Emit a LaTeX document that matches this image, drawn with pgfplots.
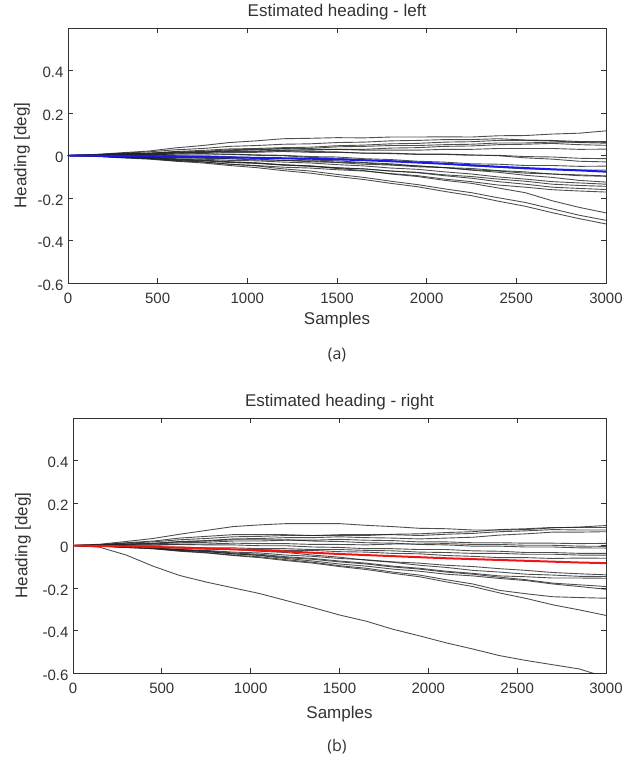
\documentclass[border=0pt]{standalone}
\usepackage{fontspec}
\setmainfont{Liberation Sans}
\newfontfamily\capfont{Open Sans}
\usepackage{pgfplots}
\pgfplotsset{compat=1.18}
\definecolor{axgray}{RGB}{50,50,50}
\definecolor{trace}{RGB}{30,30,30}
\definecolor{meanblue}{RGB}{25,25,235}
\definecolor{meanred}{RGB}{240,20,20}
\pgfplotsset{
  headingax/.style={scale only axis, height=255pt,
    xmin=0, xmax=3000, ymin=-0.6, ymax=0.6,
    xtick={0,500,1000,1500,2000,2500,3000},
    xticklabels={0,500,1000,1500,2000,2500,3000},
    ytick={-0.6,-0.4,-0.2,0,0.2,0.4},
    yticklabels={-0.6,-0.4,-0.2,0,0.2,0.4},
    tick align=inside, major tick length=5pt,
    axis line style={draw=axgray, line width=0.9pt},
    tick style={draw=axgray, line width=0.7pt},
    tick label style={font=\fontsize{15}{16}\selectfont, text=axgray},
    xticklabel style={yshift=-6pt},
    yticklabel style={xshift=-1pt, yshift=-2pt}},
  tr/.style={draw=trace, line width=0.9pt, opacity=0.78},
}
\newcommand{\lbl}{\fontsize{17}{18}\selectfont}
\begin{document}
\begin{tikzpicture}[x=1pt,y=1pt]
\path[use as bounding box] (0,0) rectangle (638,-764);

% ---- (a) left ----
\begin{axis}[headingax, at={(68pt,-283pt)}, anchor=south west, width=538pt]
\addplot[tr] coordinates {(0,0) (150,.005) (300,.013) (450,.021) (600,.036) (750,.047) (900,.061) (1050,.069) (1200,.079) (1350,.081) (1500,.084) (1650,.083) (1800,.087) (1950,.087) (2100,.088) (2250,.087) (2400,.093) (2550,.094) (2700,.101) (2850,.105) (3000,.116)};
\addplot[tr] coordinates {(0,0) (150,.004) (300,.011) (450,.017) (600,.027) (750,.033) (900,.043) (1050,.047) (1200,.053) (1350,.055) (1500,.061) (1650,.063) (1800,.069) (1950,.071) (2100,.075) (2250,.075) (2400,.079) (2550,.073) (2700,.071) (2850,.066) (3000,.066)};
\addplot[tr] coordinates {(0,0) (150,.003) (300,.008) (450,.011) (600,.019) (750,.024) (900,.031) (1050,.033) (1200,.037) (1350,.039) (1500,.046) (1650,.049) (1800,.055) (1950,.057) (2100,.063) (2250,.065) (2400,.071) (2550,.071) (2700,.069) (2850,.061) (3000,.058)};
\addplot[tr] coordinates {(0,0) (150,.002) (300,.007) (450,.009) (600,.015) (750,.019) (900,.027) (1050,.029) (1200,.033) (1350,.029) (1500,.029) (1650,.029) (1800,.035) (1950,.037) (2100,.043) (2250,.045) (2400,.051) (2550,.053) (2700,.057) (2850,.051) (3000,.048)};
\addplot[tr] coordinates {(0,0) (150,.003) (300,.009) (450,.011) (600,.017) (750,.017) (900,.021) (1050,.021) (1200,.025) (1350,.025) (1500,.029) (1650,.025) (1800,.025) (1950,.025) (2100,.029) (2250,.029) (2400,.033) (2550,.033) (2700,.033) (2850,.029) (3000,.030)};
\addplot[tr] coordinates {(0,0) (150,.001) (300,.004) (450,.005) (600,.011) (750,.013) (900,.019) (1050,.019) (1200,.023) (1350,.019) (1500,.017) (1650,.011) (1800,.009) (1950,.005) (2100,.005) (2250,.001) (2400,.001) (2550,-.005) (2700,-.007) (2850,-.013) (3000,-.015)};
\addplot[tr] coordinates {(0,0) (150,.000) (300,.003) (450,.003) (600,.007) (750,.007) (900,.007) (1050,.003) (1200,.001) (1350,-.005) (1500,-.007) (1650,-.015) (1800,-.019) (1950,-.027) (2100,-.031) (2250,-.039) (2400,-.041) (2550,-.047) (2700,-.047) (2850,-.051) (3000,-.050)};
\addplot[tr] coordinates {(0,0) (150,-.001) (300,-.001) (450,-.003) (600,.001) (750,.001) (900,.005) (1050,.001) (1200,-.001) (1350,-.009) (1500,-.013) (1650,-.021) (1800,-.025) (1950,-.033) (2100,-.039) (2250,-.049) (2400,-.055) (2550,-.063) (2700,-.065) (2850,-.069) (3000,-.068)};
\addplot[tr] coordinates {(0,0) (150,-.002) (300,-.003) (450,-.009) (600,-.009) (750,-.013) (900,-.015) (1050,-.021) (1200,-.023) (1350,-.029) (1500,-.033) (1650,-.041) (1800,-.045) (1950,-.053) (2100,-.057) (2250,-.067) (2400,-.073) (2550,-.083) (2700,-.087) (2850,-.095) (3000,-.098)};
\addplot[tr] coordinates {(0,0) (150,-.002) (300,-.007) (450,-.009) (600,-.015) (750,-.017) (900,-.023) (1050,-.025) (1200,-.031) (1350,-.035) (1500,-.043) (1650,-.049) (1800,-.059) (1950,-.065) (2100,-.077) (2250,-.087) (2400,-.101) (2550,-.111) (2700,-.123) (2850,-.129) (3000,-.135)};
\addplot[tr] coordinates {(0,0) (150,-.003) (300,-.009) (450,-.013) (600,-.021) (750,-.025) (900,-.033) (1050,-.037) (1200,-.045) (1350,-.049) (1500,-.057) (1650,-.063) (1800,-.073) (1950,-.079) (2100,-.091) (2250,-.099) (2400,-.111) (2550,-.121) (2700,-.135) (2850,-.141) (3000,-.145)};
\addplot[tr] coordinates {(0,0) (150,-.002) (300,-.006) (450,-.009) (600,-.017) (750,-.021) (900,-.029) (1050,-.035) (1200,-.045) (1350,-.051) (1500,-.059) (1650,-.063) (1800,-.073) (1950,-.081) (2100,-.095) (2250,-.107) (2400,-.123) (2550,-.135) (2700,-.149) (2850,-.155) (3000,-.160)};
\addplot[tr] coordinates {(0,0) (150,-.003) (300,-.009) (450,-.015) (600,-.025) (750,-.031) (900,-.041) (1050,-.047) (1200,-.055) (1350,-.059) (1500,-.067) (1650,-.073) (1800,-.085) (1950,-.095) (2100,-.111) (2250,-.123) (2400,-.139) (2550,-.149) (2700,-.161) (2850,-.167) (3000,-.172)};
\addplot[tr] coordinates {(0,0) (150,-.002) (300,-.007) (450,-.011) (600,-.019) (750,-.023) (900,-.031) (1050,-.035) (1200,-.043) (1350,-.049) (1500,-.061) (1650,-.071) (1800,-.087) (1950,-.099) (2100,-.117) (2250,-.131) (2400,-.153) (2550,-.175) (2700,-.213) (2850,-.244) (3000,-.270)};
\addplot[tr] coordinates {(0,0) (150,-.003) (300,-.009) (450,-.013) (600,-.023) (750,-.029) (900,-.041) (1050,-.049) (1200,-.063) (1350,-.073) (1500,-.089) (1650,-.103) (1800,-.121) (1950,-.137) (2100,-.157) (2250,-.175) (2400,-.199) (2550,-.221) (2700,-.251) (2850,-.281) (3000,-.305)};
\addplot[tr] coordinates {(0,0) (150,-.004) (300,-.011) (450,-.017) (600,-.027) (750,-.035) (900,-.047) (1050,-.057) (1200,-.071) (1350,-.083) (1500,-.099) (1650,-.113) (1800,-.131) (1950,-.147) (2100,-.169) (2250,-.189) (2400,-.215) (2550,-.239) (2700,-.269) (2850,-.297) (3000,-.322)};
\addplot[tr] coordinates {(0,0) (150,.002) (300,.005) (450,.007) (600,.013) (750,.015) (900,.023) (1050,.027) (1200,.031) (1350,.033) (1500,.041) (1650,.043) (1800,.047) (1950,.047) (2100,.051) (2250,.053) (2400,.059) (2550,.059) (2700,.063) (2850,.063) (3000,.062)};
\addplot[tr] coordinates {(0,0) (150,.001) (300,.003) (450,.003) (600,.007) (750,.009) (900,.015) (1050,.015) (1200,.019) (1350,.015) (1500,.015) (1650,.011) (1800,.011) (1950,.007) (2100,.007) (2250,.003) (2400,-.001) (2550,-.011) (2700,-.017) (2850,-.027) (3000,-.030)};
\addplot[tr] coordinates {(0,0) (150,-.001) (300,-.004) (450,-.005) (600,-.009) (750,-.009) (900,-.015) (1050,-.017) (1200,-.023) (1350,-.025) (1500,-.031) (1650,-.035) (1800,-.043) (1950,-.049) (2100,-.057) (2250,-.061) (2400,-.071) (2550,-.077) (2700,-.087) (2850,-.091) (3000,-.096)};
\addplot[tr] coordinates {(0,0) (150,.001) (300,.001) (450,-.003) (600,-.003) (750,-.005) (900,-.005) (1050,-.011) (1200,-.013) (1350,-.021) (1500,-.025) (1650,-.033) (1800,-.039) (1950,-.049) (2100,-.057) (2250,-.069) (2400,-.079) (2550,-.093) (2700,-.103) (2850,-.117) (3000,-.125)};
\addplot[draw=meanblue, line width=2pt] coordinates {(0,0) (150,-.001) (300,-.002) (450,-.003) (600,-.005) (750,-.007) (900,-.009) (1050,-.011) (1200,-.013) (1350,-.015) (1500,-.018) (1650,-.022) (1800,-.027) (1950,-.033) (2100,-.039) (2250,-.046) (2400,-.053) (2550,-.059) (2700,-.065) (2850,-.070) (3000,-.076)};
\end{axis}
\node[text=axgray, font=\lbl] at (337,-12) {Estimated heading - left};
\node[text=axgray, font=\lbl] at (337,-320.5) {Samples};
\node[text=axgray, font=\lbl, rotate=90] at (22,-155.5) {Heading [deg]};
\node[text=axgray, font=\capfont\fontsize{16}{18}\selectfont] at (337,-355) {(a)};

% ---- (b) right ----
\begin{axis}[headingax, at={(73pt,-673pt)}, anchor=south west, width=533pt]
\addplot[tr] coordinates {(0,0) (150,.006) (300,.019) (450,.033) (600,.053) (750,.071) (900,.089) (1050,.097) (1200,.103) (1350,.103) (1500,.103) (1650,.095) (1800,.089) (1950,.081) (2100,.079) (2250,.073) (2400,.073) (2550,.075) (2700,.083) (2850,.087) (3000,.094)};
\addplot[tr] coordinates {(0,0) (150,.004) (300,.013) (450,.021) (600,.035) (750,.043) (900,.051) (1050,.051) (1200,.051) (1350,.047) (1500,.047) (1650,.047) (1800,.053) (1950,.055) (2100,.061) (2250,.065) (2400,.075) (2550,.079) (2700,.085) (2850,.085) (3000,.085)};
\addplot[tr] coordinates {(0,0) (150,.004) (300,.011) (450,.017) (600,.027) (750,.033) (900,.041) (1050,.043) (1200,.047) (1350,.047) (1500,.051) (1650,.051) (1800,.051) (1950,.047) (2100,.053) (2250,.057) (2400,.065) (2550,.069) (2700,.075) (2850,.073) (3000,.073)};
\addplot[tr] coordinates {(0,0) (150,.002) (300,.007) (450,.011) (600,.019) (750,.023) (900,.031) (1050,.033) (1200,.037) (1350,.037) (1500,.041) (1650,.037) (1800,.035) (1950,.031) (2100,.035) (2250,.039) (2400,.049) (2550,.055) (2700,.063) (2850,.063) (3000,.065)};
\addplot[tr] coordinates {(0,0) (150,.002) (300,.005) (450,.007) (600,.013) (750,.015) (900,.021) (1050,.021) (1200,.025) (1350,.025) (1500,.029) (1650,.025) (1800,.023) (1950,.017) (2100,.017) (2250,.013) (2400,.013) (2550,.011) (2700,.011) (2850,.009) (3000,.010)};
\addplot[tr] coordinates {(0,0) (150,.001) (300,.003) (450,.003) (600,.007) (750,.007) (900,.011) (1050,.009) (1200,.009) (1350,.005) (1500,.005) (1650,.003) (1800,.007) (1950,.007) (2100,.009) (2250,.005) (2400,.005) (2550,.001) (2700,.001) (2850,-.003) (3000,-.004)};
\addplot[tr] coordinates {(0,0) (150,.000) (300,.001) (450,.001) (600,.005) (750,.003) (900,.003) (1050,-.001) (1200,-.001) (1350,-.007) (1500,-.009) (1650,-.015) (1800,-.015) (1950,-.019) (2100,-.019) (2250,-.025) (2400,-.027) (2550,-.033) (2700,-.033) (2850,-.037) (3000,-.037)};
\addplot[tr] coordinates {(0,0) (150,-.002) (300,-.003) (450,-.007) (600,-.007) (750,-.011) (900,-.011) (1050,-.015) (1200,-.015) (1350,-.019) (1500,-.019) (1650,-.023) (1800,-.025) (1950,-.031) (2100,-.033) (2250,-.037) (2400,-.037) (2550,-.041) (2700,-.041) (2850,-.045) (3000,-.045)};
\addplot[tr] coordinates {(0,0) (150,-.001) (300,-.004) (450,-.005) (600,-.011) (750,-.013) (900,-.019) (1050,-.019) (1200,-.023) (1350,-.023) (1500,-.029) (1650,-.031) (1800,-.037) (1950,-.039) (2100,-.047) (2250,-.051) (2400,-.057) (2550,-.057) (2700,-.061) (2850,-.059) (3000,-.060)};
\addplot[tr] coordinates {(0,0) (150,-.002) (300,-.007) (450,-.011) (600,-.019) (750,-.023) (900,-.031) (1050,-.035) (1200,-.045) (1350,-.051) (1500,-.061) (1650,-.067) (1800,-.077) (1950,-.083) (2100,-.093) (2250,-.099) (2400,-.109) (2550,-.117) (2700,-.127) (2850,-.133) (3000,-.138)};
\addplot[tr] coordinates {(0,0) (150,-.002) (300,-.007) (450,-.011) (600,-.019) (750,-.025) (900,-.035) (1050,-.041) (1200,-.053) (1350,-.061) (1500,-.073) (1650,-.083) (1800,-.097) (1950,-.107) (2100,-.121) (2250,-.131) (2400,-.143) (2550,-.147) (2700,-.153) (2850,-.153) (3000,-.154)};
\addplot[tr] coordinates {(0,0) (150,-.003) (300,-.009) (450,-.013) (600,-.023) (750,-.029) (900,-.039) (1050,-.045) (1200,-.057) (1350,-.065) (1500,-.077) (1650,-.087) (1800,-.101) (1950,-.111) (2100,-.125) (2250,-.135) (2400,-.149) (2550,-.161) (2700,-.177) (2850,-.185) (3000,-.193)};
\addplot[tr] coordinates {(0,0) (150,-.002) (300,-.007) (450,-.011) (600,-.021) (750,-.027) (900,-.039) (1050,-.047) (1200,-.061) (1350,-.073) (1500,-.087) (1650,-.097) (1800,-.111) (1950,-.121) (2100,-.135) (2250,-.143) (2400,-.155) (2550,-.165) (2700,-.181) (2850,-.193) (3000,-.206)};
\addplot[tr] coordinates {(0,0) (150,-.003) (300,-.009) (450,-.015) (600,-.025) (750,-.033) (900,-.045) (1050,-.053) (1200,-.067) (1350,-.079) (1500,-.095) (1650,-.107) (1800,-.125) (1950,-.139) (2100,-.161) (2250,-.181) (2400,-.211) (2550,-.227) (2700,-.241) (2850,-.245) (3000,-.248)};
\addplot[tr] coordinates {(0,0) (150,-.002) (300,-.009) (450,-.015) (600,-.027) (750,-.035) (900,-.047) (1050,-.057) (1200,-.071) (1350,-.083) (1500,-.099) (1650,-.113) (1800,-.131) (1950,-.147) (2100,-.171) (2250,-.193) (2400,-.223) (2550,-.249) (2700,-.279) (2850,-.303) (3000,-.329)};
\addplot[tr] coordinates {(0,0) (150,-.008) (300,-.045) (450,-.097) (600,-.141) (750,-.172) (900,-.199) (1050,-.226) (1200,-.259) (1350,-.292) (1500,-.327) (1650,-.356) (1800,-.394) (1950,-.425) (2100,-.458) (2250,-.487) (2400,-.518) (2550,-.541) (2700,-.561) (2850,-.581) (3000,-.620)};
\addplot[tr] coordinates {(0,0) (150,.002) (300,.007) (450,.009) (600,.017) (750,.021) (900,.027) (1050,.027) (1200,.027) (1350,.021) (1500,.019) (1650,.013) (1800,.011) (1950,.005) (2100,.003) (2250,-.003) (2400,-.003) (2550,-.007) (2700,-.007) (2850,-.011) (3000,-.012)};
\addplot[tr] coordinates {(0,0) (150,-.002) (300,-.003) (450,-.009) (600,-.011) (750,-.017) (900,-.019) (1050,-.027) (1200,-.033) (1350,-.045) (1500,-.055) (1650,-.069) (1800,-.079) (1950,-.093) (2100,-.103) (2250,-.117) (2400,-.125) (2550,-.135) (2700,-.139) (2850,-.145) (3000,-.146)};
\addplot[draw=meanred, line width=2pt] coordinates {(0,0) (150,-.002) (300,-.004) (450,-.007) (600,-.010) (750,-.014) (900,-.018) (1050,-.022) (1200,-.028) (1350,-.034) (1500,-.040) (1650,-.045) (1800,-.050) (1950,-.055) (2100,-.060) (2250,-.064) (2400,-.068) (2550,-.072) (2700,-.076) (2850,-.080) (3000,-.083)};
\end{axis}
\node[text=axgray, font=\lbl] at (339.5,-402) {Estimated heading - right};
\node[text=axgray, font=\lbl] at (339.5,-714) {Samples};
\node[text=axgray, font=\lbl, rotate=90] at (23,-545.5) {Heading [deg]};
\node[text=axgray, font=\capfont\fontsize{16}{18}\selectfont] at (337,-747) {(b)};
\end{tikzpicture}
\end{document}
